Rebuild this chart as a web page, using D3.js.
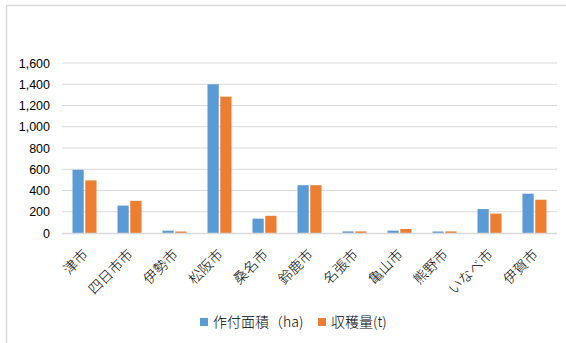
<!DOCTYPE html>
<html>
<head>
<meta charset="utf-8">
<script src="https://cdn.jsdelivr.net/npm/d3@7"></script>
<style>
  body { margin: 0; background: #fff; }
  svg { display: block; font-family: "Noto Sans CJK JP", "Noto Sans", sans-serif; }
</style>
</head>
<body>
<svg id="chart"></svg>
<script>
const cities = ['津市', '四日市市', '伊勢市', '松阪市', '桑名市', '鈴鹿市', '名張市', '亀山市', '熊野市', 'いなべ市', '伊賀市'];
const area = [595, 258, 22, 1400, 135, 450, 15, 22, 14, 225, 370];
const harvest = [495, 303, 14, 1283, 162, 450, 15, 38, 15, 182, 313];
const seriesNames = ['作付面積（ha)', '収穫量(t)'];
const yTicks = [0, 200, 400, 600, 800, 1000, 1200, 1400, 1600];

const width = 566, height = 343;
const margin = { top: 63, right: 9, bottom: 110, left: 62 };
const colors = ['#5b9bd5', '#ed7d31'];

const svg = d3.select('#chart')
    .attr('width', width)
    .attr('height', height);

// frame of the chart area (cropped on the right and bottom)
svg.append('path')
    .attr('d', `M6.5,${height} V5.5 H${width}`)
    .attr('fill', 'none')
    .attr('stroke', '#d9d9d9')
    .attr('stroke-width', 1.5);

const x = d3.scaleBand()
    .domain(cities)
    .range([margin.left, width - margin.right]);

const xSub = d3.scaleBand()
    .domain([0, 1])
    .range([0, 24])
    .paddingInner(0.12);

const y = d3.scaleLinear()
    .domain([0, 1600])
    .range([height - margin.bottom, margin.top]);

// grid lines
svg.append('g')
    .selectAll('line')
    .data(yTicks.slice(1))
    .join('line')
    .attr('x1', margin.left)
    .attr('x2', width - margin.right)
    .attr('y1', d => y(d))
    .attr('y2', d => y(d))
    .attr('stroke', '#d9d9d9')
    .attr('stroke-width', 1);

// y axis labels
const yAxis = svg.append('g')
    .attr('transform', `translate(${margin.left - 12},0)`)
    .call(d3.axisLeft(y).tickValues(yTicks).tickFormat(d3.format(',')).tickSize(0).tickPadding(0));
yAxis.select('.domain').remove();
yAxis.selectAll('text')
    .attr('fill', '#000')
    .style('font-family', '"Liberation Sans", Arial, sans-serif')
    .style('font-size', '12.5px');

// bars
const series = [area, harvest];
const groups = svg.append('g')
    .selectAll('g')
    .data(cities)
    .join('g')
    .attr('transform', d => `translate(${x(d) + x.bandwidth() / 2 - 12},0)`);

groups.selectAll('rect')
    .data((d, i) => series.map((s, k) => ({ k, v: s[i] })))
    .join('rect')
    .attr('x', d => xSub(d.k))
    .attr('width', xSub.bandwidth())
    .attr('y', d => y(d.v))
    .attr('height', d => y(0) - y(d.v))
    .attr('fill', d => colors[d.k]);

// x axis line
svg.append('line')
    .attr('x1', margin.left)
    .attr('x2', width - margin.right)
    .attr('y1', y(0) + 0.5)
    .attr('y2', y(0) + 0.5)
    .attr('stroke', '#d9d9d9')
    .attr('stroke-width', 1.5);

// x labels
svg.append('g')
    .selectAll('text')
    .data(cities)
    .join('text')
    .attr('transform', d => `translate(${x(d) + x.bandwidth() / 2 + 1},${y(0) + 19}) rotate(-45)`)
    .attr('text-anchor', 'end')
    .attr('dy', '0.35em')
    .style('font-size', '14px')
    .style('font-weight', 300)
    .attr('fill', '#000')
    .text(d => d);

// legend
const legend = svg.append('g')
    .attr('transform', 'translate(200,322)');
const legendX = [0, 118];
const items = legend.selectAll('g')
    .data(seriesNames)
    .join('g')
    .attr('transform', (d, i) => `translate(${legendX[i]},0)`);
items.append('rect')
    .attr('x', 0)
    .attr('y', -4)
    .attr('width', 8)
    .attr('height', 8)
    .attr('fill', (d, i) => colors[i]);
items.append('text')
    .attr('x', 13)
    .attr('dy', '0.35em')
    .style('font-size', '14px')
    .style('font-weight', 300)
    .attr('fill', '#000')
    .text(d => d);
</script>
</body>
</html>
